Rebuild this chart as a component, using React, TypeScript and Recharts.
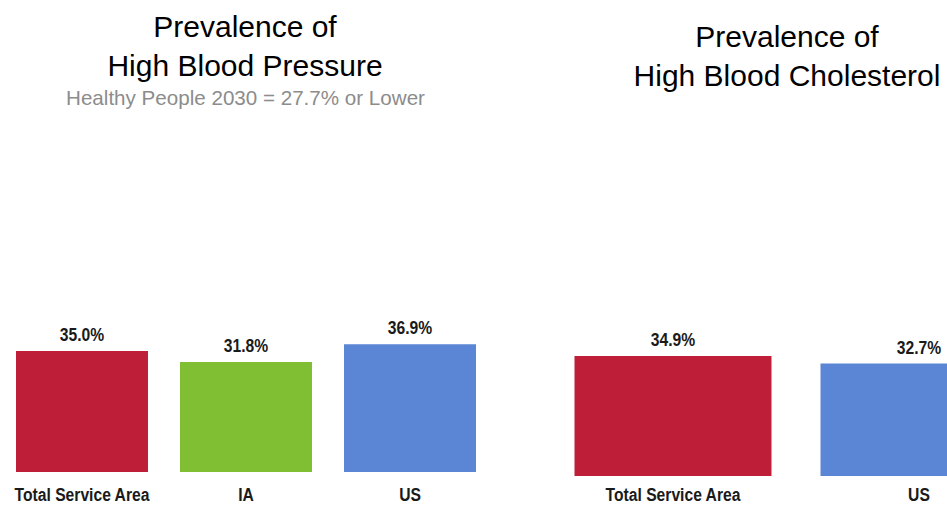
import { BarChart, Bar, XAxis, YAxis, Cell, LabelList } from 'recharts';

// High Blood Pressure
const bpCategories = ['Total Service Area', 'IA', 'US'];
const bpValues = [35.0, 31.8, 36.9];
const bpColors = ['#BE1E38', '#80BE33', '#5B86D6'];

// High Blood Cholesterol
const cholCategories = ['Total Service Area', 'US'];
const cholValues = [34.9, 32.7];
const cholColors = ['#BE1E38', '#5B86D6'];

const FONT = "'Liberation Sans', Arial, sans-serif";

// narrow bold text (the original uses a condensed bold face)
const NarrowText = ({ x, y, text }: { x: number; y: number; text: string }) => (
  <text
    x={x}
    y={y}
    textAnchor="middle"
    fontFamily={FONT}
    fontWeight="bold"
    fontSize={18}
    fill="#1a1a1a"
    transform={`translate(${x},0) scale(0.87,1) translate(${-x},0)`}
  >
    {text}
  </text>
);

const makeTick = (offset: number) => (props: any) => (
  <NarrowText x={props.x} y={props.y + offset} text={props.payload.value} />
);

const valueLabel = (props: any) => {
  const { x, y, width, value } = props;
  return <NarrowText x={x + width / 2} y={y - 10} text={`${Number(value).toFixed(1)}%`} />;
};

const toRows = (cats: string[], vals: number[]) => cats.map((name, i) => ({ name, value: vals[i] }));

const titleStyle: React.CSSProperties = {
  position: 'absolute',
  fontFamily: FONT,
  fontSize: 30,
  lineHeight: '39px',
  color: '#000',
  textAlign: 'center',
  whiteSpace: 'nowrap',
};

export default function App() {
  const bpData = toRows(bpCategories, bpValues);
  const cholData = toRows(cholCategories, cholValues);

  return (
    <div
      style={{
        position: 'absolute',
        left: 0,
        top: 0,
        width: 947,
        height: 506,
        overflow: 'hidden',
        background: '#fff',
      }}
    >
      <div style={{ ...titleStyle, left: 0, top: 7, width: 490 }}>
        Prevalence of
        <br />
        High Blood Pressure
      </div>
      <div
        style={{
          position: 'absolute',
          left: 0,
          top: 86,
          width: 491,
          fontFamily: FONT,
          fontSize: 20.6,
          lineHeight: '24px',
          color: '#8c8c8c',
          textAlign: 'center',
          whiteSpace: 'nowrap',
        }}
      >
        Healthy People 2030 = 27.7% or Lower
      </div>
      <div style={{ ...titleStyle, left: 587, top: 17, width: 400 }}>
        Prevalence of
        <br />
        High Blood Cholesterol
      </div>

      <div style={{ position: 'absolute', left: 0, top: 0 }}>
        <BarChart
          width={492}
          height={520}
          data={bpData}
          margin={{ top: 126, right: 0, bottom: 14, left: 0 }}
          barCategoryGap={16}
        >
          <XAxis
            dataKey="name"
            height={34}
            axisLine={false}
            tickLine={false}
            tickSize={0}
            tickMargin={0}
            interval={0}
            tick={makeTick(29)}
          />
          <YAxis hide domain={[0, 100]} />
          <Bar dataKey="value" isAnimationActive={false}>
            {bpData.map((d, i) => (
              <Cell key={d.name} fill={bpColors[i]} />
            ))}
            <LabelList dataKey="value" content={valueLabel} />
          </Bar>
        </BarChart>
      </div>

      <div style={{ position: 'absolute', left: 550, top: 0 }}>
        <BarChart
          width={492}
          height={520}
          data={cholData}
          margin={{ top: 132, right: 0, bottom: 14, left: 0 }}
          barCategoryGap={24.5}
        >
          <XAxis
            dataKey="name"
            height={30}
            axisLine={false}
            tickLine={false}
            tickSize={0}
            tickMargin={0}
            interval={0}
            tick={makeTick(25)}
          />
          <YAxis hide domain={[0, 100]} />
          <Bar dataKey="value" isAnimationActive={false}>
            {cholData.map((d, i) => (
              <Cell key={d.name} fill={cholColors[i]} />
            ))}
            <LabelList dataKey="value" content={valueLabel} />
          </Bar>
        </BarChart>
      </div>
    </div>
  );
}
